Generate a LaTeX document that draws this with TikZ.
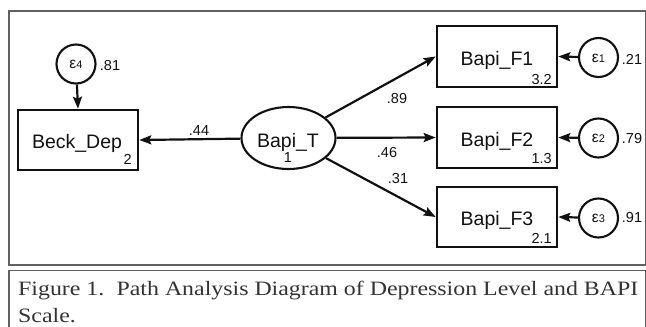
\documentclass[tikz,border=0pt]{standalone}
\usepackage{fontspec}
\setmainfont{Liberation Sans}
\newfontfamily\capfont[FakeStretch=1.17]{Liberation Serif}
\usetikzlibrary{arrows.meta,shapes.geometric}
\definecolor{ink}{HTML}{111111}
\definecolor{framec}{HTML}{606060}
\definecolor{capc}{HTML}{333333}
\tikzset{
  varbox/.style={draw=ink,line width=2.6pt,minimum width=120pt,minimum height=60pt,inner sep=0pt},
  latent/.style={draw=ink,line width=2.1pt,ellipse,minimum width=94pt,minimum height=62pt,inner sep=0pt},
  errc/.style={draw=ink,line width=2.1pt,circle,minimum size=39pt,inner sep=0pt},
  maintxt/.style={font=\fontsize{19.5}{19.5}\selectfont,text=ink,inner sep=0pt,anchor=base},
  subtxt/.style={font=\fontsize{14.5}{14.5}\selectfont,text=ink,inner sep=0pt,anchor=base east},
  coef/.style={font=\fontsize{14.5}{14.5}\selectfont,text=ink,inner sep=0pt,anchor=base},
  path/.style={draw=ink,line width=2.2pt,-{Stealth[length=12pt,width=9pt,inset=2pt]}},
  frm/.style={draw=framec,line width=1.2pt},
  captxt/.style={font=\capfont\fontsize{20.4}{20.4}\selectfont,text=capc,inner sep=0pt,anchor=base west},
}
\newcommand{\epsl}[1]{{\fontsize{15.5}{15.5}\selectfont ε}{\fontsize{11}{11}\selectfont #1}}
\begin{document}
\begin{tikzpicture}[x=1pt,y=-1pt]
\useasboundingbox (0,0) rectangle (646,327);
% frames
\draw[frm] (9,11) rectangle (645.5,265);
\draw[frm] (9,330) -- (9,270.5) -- (645.5,270.5) -- (645.5,330);
% nodes
\node[varbox] (beck) at (78,140) {};
\node[varbox,minimum height=61pt] (f1) at (497,56.5) {};
\node[varbox,minimum height=61pt] (f2) at (497,137.5) {};
\node[varbox] (f3) at (497,217) {};
\node[latent] (bt) at (288.5,138) {};
\node[errc] (e1) at (598.5,57.5) {};
\node[errc] (e2) at (598.5,138) {};
\node[errc] (e3) at (598.5,218) {};
\node[errc] (e4) at (76,64) {};
% texts
\node[maintxt] (tbeck) at (77,148) {Beck\_Dep};
\node[maintxt] (tf1) at (497,65) {Bapi\_F1};
\node[maintxt] (tf2) at (497,146) {Bapi\_F2};
\node[maintxt] (tf3) at (497,225.5) {Bapi\_F3};
\node[maintxt] (tbt) at (288,147) {Bapi\_T};
\node[subtxt] (sbeck) at (132,164) {2};
\node[subtxt] (sf1) at (552,84) {3.2};
\node[subtxt] (sf2) at (552,163.5) {1.3};
\node[subtxt] (sf3) at (552,243) {2.1};
\node[coef] (sbt) at (288,162) {1};
\node[coef] (ee1) at (598.5,62) {\epsl{1}};
\node[coef] (ee2) at (598.5,142.5) {\epsl{2}};
\node[coef] (ee3) at (598.5,222.5) {\epsl{3}};
\node[coef] (ee4) at (76,68.5) {\epsl{4}};
\node[coef] (v1) at (632,64) {.21};
\node[coef] (v2) at (632,143) {.79};
\node[coef] (v3) at (632,222) {.91};
\node[coef] (v4) at (110,70) {.81};
% paths
\draw[path] (bt) -- (beck.east);
\draw[path] (bt) -- (f1.west);
\draw[path] (bt) -- (f2.west);
\draw[path] (bt) -- (f3.west);
\draw[path] (e1) -- (f1.east);
\draw[path] (e2) -- (f2.east);
\draw[path] (e3) -- (f3.east);
\draw[path] (e4) -- (beck.north);
\node[coef] (c44) at (199,135) {.44};
\node[coef] (c89) at (397,103) {.89};
\node[coef] (c46) at (387,157) {.46};
\node[coef] (c31) at (398,183) {.31};
% caption
\node[captxt] (cap1) at (18,295) {Figure 1.\hspace{0.6em}Path Analysis Diagram of Depression Level and BAPI};
\node[captxt] (cap2) at (18,322) {Scale.};
\end{tikzpicture}
\end{document}
